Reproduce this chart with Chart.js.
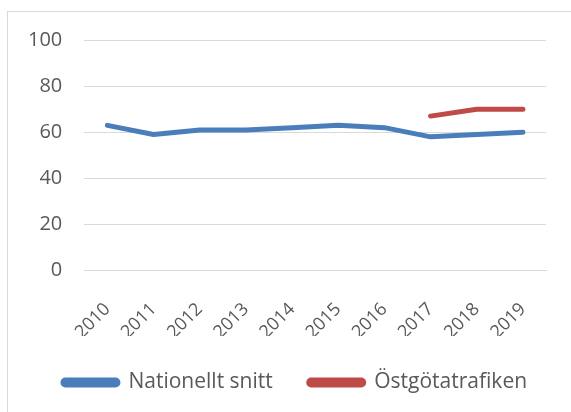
<!DOCTYPE html>
<html>
<head>
<meta charset="utf-8">
<script src="https://cdn.jsdelivr.net/npm/chart.js"></script>
<style>
  html, body { margin: 0; padding: 0; background: #fff; overflow: hidden; width: 571px; height: 412px; }
  #frame {
    position: absolute; left: 7px; top: 11px; width: 620px; height: 460px;
    border: 1px solid #d9d9d9; box-sizing: border-box;
  }
  #wrap { position: absolute; left: 0; top: 0; width: 571px; height: 412px; }
  canvas { display: block; }
</style>
</head>
<body>
<div id="frame"></div>
<div id="wrap"><canvas id="chart"></canvas></div>
<script>
// years on the x axis
const years = ['2010', '2011', '2012', '2013', '2014', '2015', '2016', '2017', '2018', '2019'];
// national average
const nationellt = [63, 59, 61, 61, 62, 63, 62, 58, 59, 60];
// Östgötatrafiken, only the last three years
const ostgota = [null, null, null, null, null, null, null, 67, 70, 70];

// nudge the legend a bit to the right, like the original
const legendShift = {
    id: 'legendShift',
    afterLayout: function(chart) {
        const lg = chart.legend;
        if (!lg || lg._shifted) return;
        const orig = lg.draw.bind(lg);
        lg.draw = function() {
            const c = this.ctx;
            c.save();
            c.translate(19, 0);
            orig();
            c.restore();
        };
        lg._shifted = true;
    }
};

const ctx = document.getElementById('chart');
new Chart(ctx, {
    type: 'line',
    data: {
        labels: years,
        datasets: [{
            label: 'Nationellt snitt',
            data: nationellt,
            borderColor: '#4a7ebb',
            backgroundColor: '#4a7ebb',
            borderWidth: 5,
            pointRadius: 0,
            tension: 0,
            borderCapStyle: 'round',
            borderJoinStyle: 'round'
        }, {
            label: 'Östgötatrafiken',
            data: ostgota,
            borderColor: '#be4b48',
            backgroundColor: '#be4b48',
            borderWidth: 5,
            pointRadius: 0,
            tension: 0,
            borderCapStyle: 'round',
            borderJoinStyle: 'round'
        }]
    },
    options: {
        responsive: true,
        maintainAspectRatio: false,
        animation: false,
        layout: { padding: { left: 6, right: 25, top: 40, bottom: 9 } },
        plugins: {
            tooltip: { enabled: false },
            legend: {
                position: 'bottom',
                labels: {
                    color: '#595959',
                    font: { family: 'Open Sans', size: 21 },
                    boxWidth: 55,
                    boxHeight: 5,
                    useBorderRadius: true,
                    borderRadius: 2.5,
                    padding: 36
                }
            }
        },
        scales: {
            x: {
                offset: true,
                grid: { display: false },
                border: { color: '#d9d9d9', width: 1 },
                ticks: {
                    color: '#595959',
                    font: { family: 'Open Sans', size: 18 },
                    maxRotation: 45,
                    minRotation: 45,
                    padding: 20
                },
                afterFit: function(scale) {
                    scale.height -= 27;
                }
            },
            y: {
                min: 0,
                max: 100,
                grid: { color: '#d9d9d9', drawTicks: false },
                border: { display: false },
                ticks: {
                    stepSize: 20,
                    color: '#595959',
                    font: { family: 'Open Sans', size: 20 },
                    padding: 22
                }
            }
        }
    },
    plugins: [legendShift]
});
</script>
</body>
</html>
